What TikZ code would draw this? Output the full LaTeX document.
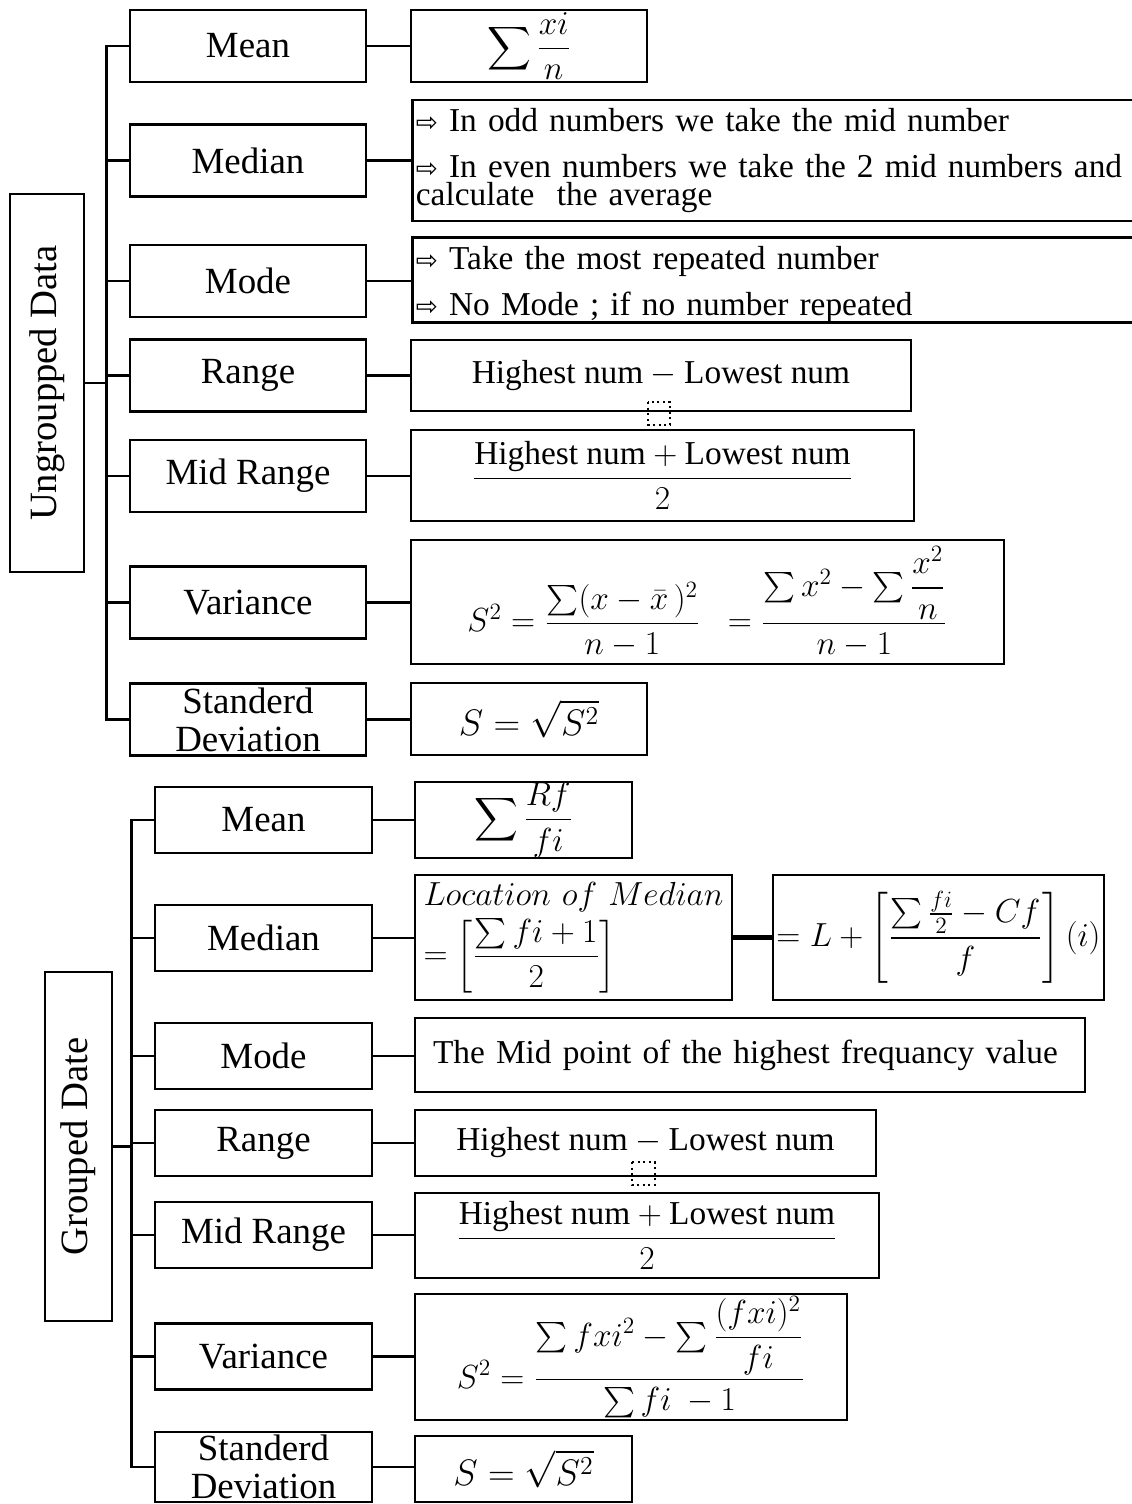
\RequirePackage{fix-cm}
\documentclass[tikz,border=0pt]{standalone}
\usepackage{amsmath}
\usepackage{fontspec}
\setmainfont{Liberation Serif}
\newfontfamily\arrfont{DejaVu Sans}
\newcommand\arr{{\arrfont\fontsize{15}{15}\selectfont ⇨}}
\tikzset{
  bx/.style 2 args={draw,line width=1.6pt,inner sep=0pt,align=center,
    minimum width=#1*0.02cm,minimum height=#2*0.02cm},
  lbl/.style={font=\fontsize{21}{22}\selectfont},
  txt/.style={font=\fontsize{19}{23}\selectfont},
  link/.style={line width=1.6pt},
}
\begin{document}
\begin{tikzpicture}[x=0.02cm,y=-0.02cm]
\useasboundingbox (0,0) rectangle (1132,1504);
\clip (0,0) rectangle (1132,1504);
% ungroupped data
\node[bx={74}{378},font=\fontsize{22}{22}\selectfont] (uData) at (47,383) {\rotatebox{90}{Ungroupped Data}};
\foreach \n/\y/\t in {uMean/46/Mean,uMedian/160.5/Median,uMode/281/Mode,uRange/375.5/Range,uMid/476/Mid Range,uVar/602.5/Variance}
  \node[bx={236}{72},lbl] (\n) at (248,\y) {\t};
\node[bx={236}{72},font=\fontsize{21}{21.5}\selectfont] (uSD) at (248,719.5) {Standerd\\Deviation};
\node[bx={236}{72},txt] (uMeanF) at (529,46) {\raisebox{-2pt}{$\displaystyle\sum\frac{xi}{n}$}};
\node[bx={729}{121},font=\fontsize{19}{16}\selectfont,anchor=west,align=left,text width=722*0.02cm,inner xsep=0.06cm] (uMedT) at (411,160.5)
  {\arr\ In odd numbers we take the mid number\\[10pt]
   \arr\ In even numbers we take the 2 mid numbers and\\
   calculate\ \ the average};
\node[bx={729}{84},font=\fontsize{19}{16}\selectfont,anchor=west,align=left,text width=722*0.02cm,inner xsep=0.06cm] (uModeT) at (411,280)
  {\rule{0pt}{18pt}\arr\ Take the most repeated number\\[8pt]
   \arr\ No Mode ; if no number repeated};
\node[bx={500}{71},txt] (uRangeF) at (661,375.5) {$\text{Highest num}-\text{Lowest num}$};
\draw[dotted,line width=1.2pt] (648,402) rectangle (670,425);
\node[bx={503}{91},txt] (uMidF) at (662.5,475.5) {$\dfrac{\text{Highest num}+\text{Lowest num}}{2}$};
\node[bx={593}{124},txt] (uVarF) at (707.5,602) {$S^2=\dfrac{\sum(x-\bar{x}\,)^2}{n-1}\;\;=\dfrac{\sum x^2-\sum\dfrac{x^2}{n}}{n-1}$};
\node[bx={236}{72},font=\fontsize{21}{23}\selectfont] (uSDF) at (529,719) {$S=\sqrt{S^2}$};
\draw[link] (uMean.west) -- ++(-22,0) coordinate (uT) |- (uSD.west);
\foreach \n in {uMedian,uMode,uRange,uMid,uVar}
  \draw[link] (\n.west) -- (\n.west -| uT);
\draw[link] (uData.east) -- (uData.east -| uT);
\foreach \a/\b in {uMean/uMeanF,uMedian/uMedT,uMode/uModeT,uRange/uRangeF,uMid/uMidF,uVar/uVarF,uSD/uSDF}
  \draw[link] (\a.east) -- (\a.east -| \b.west);
% grouped date
\node[bx={67}{349},font=\fontsize{22}{22}\selectfont] (gData) at (78.5,1146.5) {\rotatebox{90}{Grouped Date}};
\foreach \n/\y/\t in {gMean/820/Mean,gMedian/938/Median,gMode/1056/Mode,gRange/1143/Range,gMid/1235/Mid Range,gVar/1356.5/Variance}
  \node[bx={217}{66},lbl] (\n) at (263.5,\y) {\t};
\node[bx={217}{70},font=\fontsize{21}{21.5}\selectfont] (gSD) at (263.5,1467) {Standerd\\Deviation};
\node[bx={217}{76},txt] (gMeanF) at (523.5,820) {$\displaystyle\sum\frac{Rf}{fi}$};
\node[bx={317}{125},txt,align=left,text width=300*0.02cm] (gMedLoc) at (573.5,937.5)
  {$Location\ of\ Median$\\[3pt] $=\left[\dfrac{\sum fi+1}{2}\right]$};
\node[bx={331}{125},txt] (gMedF) at (938.5,937.5) {$=L+\left[\dfrac{\sum\tfrac{fi}{2}-Cf}{f}\right](i)$};
\node[bx={670}{74},txt,align=left,text width=634*0.02cm] (gModeT) at (750,1055) {The Mid point of the highest frequancy value};
\node[bx={461}{66},txt] (gRangeF) at (645.5,1143) {$\text{Highest num}-\text{Lowest num}$};
\draw[dotted,line width=1.2pt] (632,1162) rectangle (655,1185);
\node[bx={464}{85},txt] (gMidF) at (647,1235.5) {$\dfrac{\text{Highest num}+\text{Lowest num}}{2}$};
\node[bx={432}{126},txt] (gVarF) at (631,1357) {$S^2=\dfrac{\sum fxi^2-\sum\dfrac{(fxi)^2}{fi}}{\sum fi\ -1}$};
\node[bx={217}{66},font=\fontsize{21}{23}\selectfont] (gSDF) at (523.5,1469) {$S=\sqrt{S^2}$};
\draw[link] (gMean.west) -- ++(-22,0) coordinate (gT) |- (gSD.west);
\foreach \n in {gMedian,gMode,gRange,gMid,gVar}
  \draw[link] (\n.west) -- (\n.west -| gT);
\draw[link] (gData.east) -- (gData.east -| gT);
\foreach \a/\b in {gMean/gMeanF,gMedian/gMedLoc,gMode/gModeT,gRange/gRangeF,gMid/gMidF,gVar/gVarF,gSD/gSDF}
  \draw[link] (\a.east) -- (\a.east -| \b.west);
\draw[line width=2.8pt] (gMedLoc.east) -- (gMedLoc.east -| gMedF.west);
\end{tikzpicture}
\end{document}
